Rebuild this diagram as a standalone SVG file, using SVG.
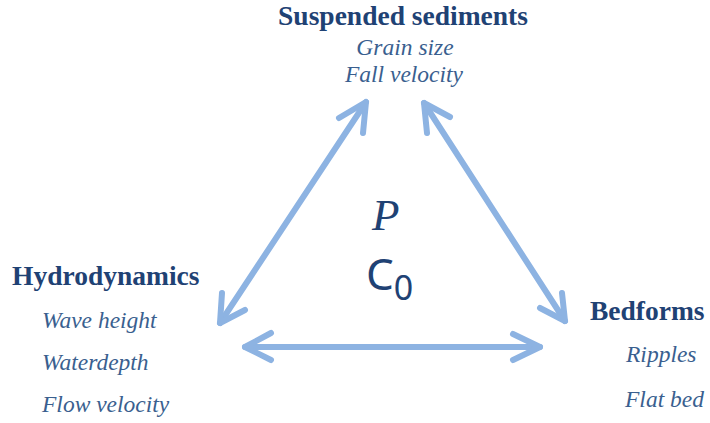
<svg xmlns="http://www.w3.org/2000/svg" width="710" height="423" viewBox="0 0 710 423">
<style>
.h{font-family:"Liberation Serif",serif;font-weight:bold;font-size:27.5px;fill:#1F4274}
.i{font-family:"Liberation Serif",serif;font-style:italic;font-size:23.5px;fill:#3A5F8F}
.c{fill:none;stroke:#8DB3E2;stroke-width:6;stroke-linecap:round;stroke-linejoin:round}
</style>
<rect width="710" height="423" fill="#fff"/>
<g id="suspended">
<text class="h" x="403" y="25" text-anchor="middle">Suspended sediments</text>
<text class="i" x="405" y="55" text-anchor="middle">Grain size</text>
<text class="i" x="404" y="82" text-anchor="middle">Fall velocity</text>
</g>
<g id="hydrodynamics">
<text class="h" x="12" y="285">Hydrodynamics</text>
<text class="i" x="42" y="328">Wave height</text>
<text class="i" x="42" y="370">Waterdepth</text>
<text class="i" x="42" y="412">Flow velocity</text>
</g>
<g id="bedforms">
<text class="h" x="590" y="320">Bedforms</text>
<text class="i" x="626" y="362">Ripples</text>
<text class="i" x="625" y="407">Flat bed</text>
</g>
<g id="center">
<text x="372" y="230" font-family="'Liberation Serif',serif" font-style="italic" font-size="45" fill="#1F4274">P</text>
<text x="366" y="290" font-family="'Noto Sans',sans-serif" font-size="44" fill="#1F4274">C<tspan font-size="34" dy="10">0</tspan></text>
</g>
<g id="connectors" class="c">
<path d="M366,102 L220,323"/>
<path d="M339,118 L366,102 L363,133"/>
<path d="M222,293 L220,323 L245,310"/>
<path d="M424,103 L565,321"/>
<path d="M427,133 L424,103 L450,117"/>
<path d="M562,293 L565,321 L540,308"/>
<path d="M245,347 L540,347"/>
<path d="M271,333 L245,347 L271,360"/>
<path d="M513,334 L540,347 L513,360"/>
</g>
</svg>
